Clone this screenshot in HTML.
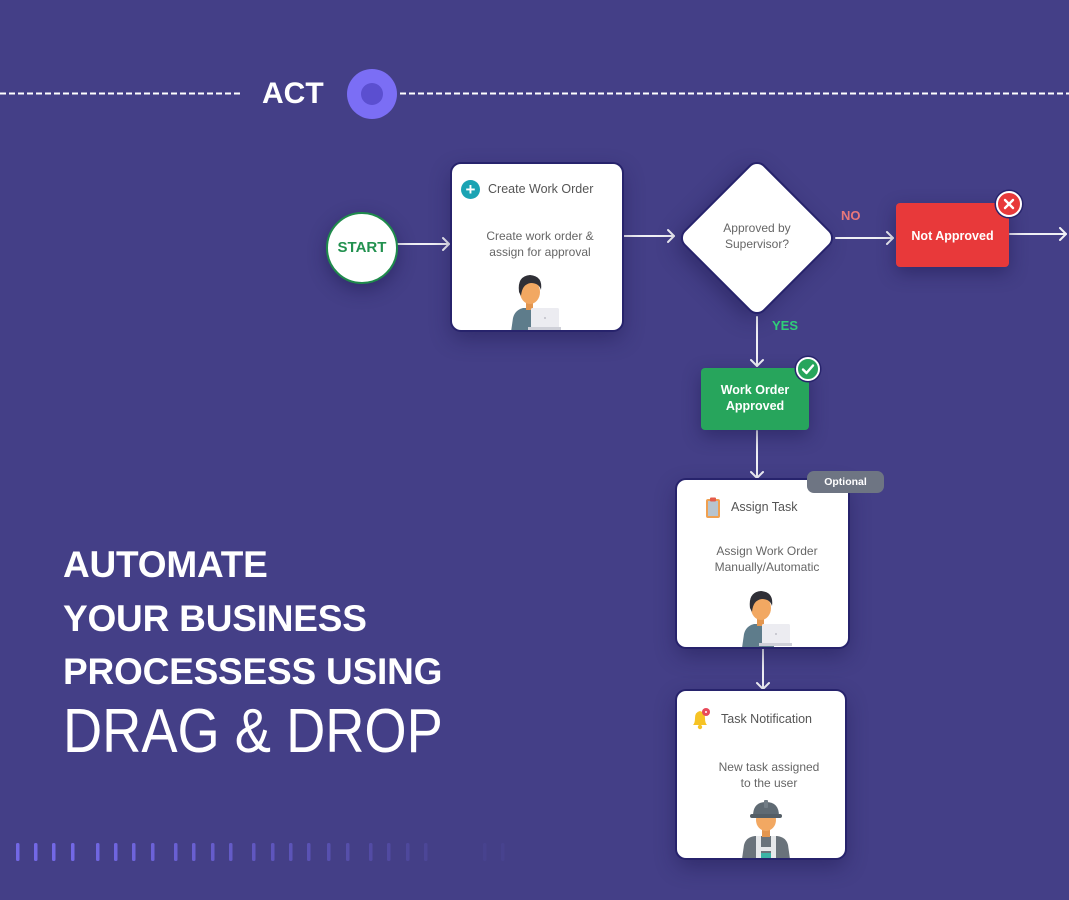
<!DOCTYPE html>
<html><head><meta charset="utf-8">
<style>
*{margin:0;padding:0;box-sizing:border-box}
html,body{width:1069px;height:900px;overflow:hidden}
body{background:#443f87;font-family:"Liberation Sans",sans-serif;position:relative}
.abs{position:absolute}
.card{position:absolute;background:#fff;border-radius:9px;box-shadow:0 0 0 2px #27236c,0 8px 22px rgba(25,20,70,.45)}
.hdr{position:absolute;font-size:12.5px;color:#555;white-space:nowrap}
.body{position:absolute;font-size:12px;color:#666;text-align:center;line-height:16px;white-space:nowrap}
.head{position:absolute;left:63px;color:#fff;font-weight:bold;font-size:37px;letter-spacing:-0.2px;white-space:nowrap;line-height:1}
</style></head><body>

<svg class="abs" style="left:0;top:0" width="1069" height="900">
  <line x1="0" y1="93.5" x2="243" y2="93.5" stroke="#fff" stroke-width="2" stroke-dasharray="6 3"/>
  <line x1="400" y1="93.5" x2="1069" y2="93.5" stroke="#fff" stroke-width="2" stroke-dasharray="6 3"/>
  <circle cx="372" cy="94" r="25" fill="#7b6ef5"/>
  <circle cx="372" cy="94" r="11" fill="#5b4fd0"/>
  <g stroke="#fff" stroke-width="2" fill="none" stroke-linecap="round" stroke-linejoin="round" opacity="0.92">
    <line x1="398" y1="244" x2="449" y2="244"/><polyline points="443,238 449,244 443,250"/>
    <line x1="623" y1="236" x2="674" y2="236"/><polyline points="668,230 674,236 668,242"/>
    <line x1="836" y1="238" x2="893" y2="238"/><polyline points="887,232 893,238 887,244"/>
    <line x1="1010" y1="234" x2="1066" y2="234"/><polyline points="1060,228 1066,234 1060,240"/>
    <line x1="757" y1="317" x2="757" y2="366"/><polyline points="751,360 757,366 763,360"/>
    <line x1="757" y1="431" x2="757" y2="478"/><polyline points="751,472 757,478 763,472"/>
    <line x1="763" y1="648" x2="763" y2="689"/><polyline points="757,683 763,689 769,683"/>
  </g>
  <g fill="#7368e6">
    <rect x="16" y="843" width="3.5" height="18" rx="1.5"/>
    <rect x="34" y="843" width="3.5" height="18" rx="1.5"/>
    <rect x="52" y="843" width="3.5" height="18" rx="1.5"/>
    <rect x="71" y="843" width="3.5" height="18" rx="1.5"/>
    <rect x="96" y="843" width="3.5" height="18" rx="1.5" opacity=".95"/>
    <rect x="114" y="843" width="3.5" height="18" rx="1.5" opacity=".92"/>
    <rect x="132" y="843" width="3.5" height="18" rx="1.5" opacity=".9"/>
    <rect x="151" y="843" width="3.5" height="18" rx="1.5" opacity=".85"/>
    <rect x="174" y="843" width="3.5" height="18" rx="1.5" opacity=".8"/>
    <rect x="192" y="843" width="3.5" height="18" rx="1.5" opacity=".78"/>
    <rect x="211" y="843" width="3.5" height="18" rx="1.5" opacity=".72"/>
    <rect x="229" y="843" width="3.5" height="18" rx="1.5" opacity=".68"/>
    <rect x="252" y="843" width="3.5" height="18" rx="1.5" opacity=".6"/>
    <rect x="271" y="843" width="3.5" height="18" rx="1.5" opacity=".56"/>
    <rect x="289" y="843" width="3.5" height="18" rx="1.5" opacity=".52"/>
    <rect x="307" y="843" width="3.5" height="18" rx="1.5" opacity=".48"/>
    <rect x="327" y="843" width="3.5" height="18" rx="1.5" opacity=".42"/>
    <rect x="346" y="843" width="3.5" height="18" rx="1.5" opacity=".38"/>
    <rect x="369" y="843" width="3.5" height="18" rx="1.5" opacity=".32"/>
    <rect x="387" y="843" width="3.5" height="18" rx="1.5" opacity=".28"/>
    <rect x="406" y="843" width="3.5" height="18" rx="1.5" opacity=".22"/>
    <rect x="424" y="843" width="3.5" height="18" rx="1.5" opacity=".18"/>
    <rect x="483" y="843" width="3.5" height="18" rx="1.5" opacity=".08"/>
    <rect x="501" y="843" width="3.5" height="18" rx="1.5" opacity=".08"/>
  </g>
</svg>

<div class="abs" style="left:262px;top:79px;color:#fff;font-weight:bold;font-size:30px;line-height:30px">ACT</div>

<!-- START -->
<div class="abs" style="left:326px;top:212px;width:72px;height:72px;border-radius:50%;background:#fff;border:2.5px solid #1f8a4c;box-shadow:0 6px 18px rgba(25,20,70,.45);color:#22914f;font-weight:bold;font-size:15px;line-height:67px;text-align:center">START</div>

<!-- Create Work Order card -->
<div class="card" style="left:452px;top:164px;width:170px;height:166px;overflow:hidden">
  <div class="abs" style="left:9px;top:16px;width:19px;height:19px;border-radius:50%;background:#1aa3b3;color:#fff;font-weight:bold;font-size:17px;line-height:19px;text-align:center">+</div>
  <div class="hdr" style="left:36px;top:18px">Create Work Order</div>
  <div class="body" style="left:0;width:176px;top:64px">Create work order &amp;<br>assign for approval</div>
  <svg class="abs" style="left:57px;top:106px" width="52" height="62" viewBox="0 0 52 62">
    <path d="M2 62 L4 48 Q6 40 14 38 L30 38 Q34 40 34 48 L34 62 Z" fill="#5e7c8b"/>
    <rect x="17" y="30" width="7" height="10" fill="#e3964f"/>
    <ellipse cx="21" cy="22" rx="10" ry="12" fill="#f2a862"/>
    <path d="M10 22 Q8 6 21 5 Q34 6 32 20 Q30 13 22 13 Q13 14 12 26 Z" fill="#2f2f36"/>
    <rect x="22" y="38" width="28" height="20" rx="1.5" fill="#ececf1"/>
    <rect x="19" y="57" width="33" height="3" fill="#cfd0d8"/>
    <circle cx="36" cy="48" r="1" fill="#c0c0c8"/>
  </svg>
</div>

<!-- Diamond -->
<div class="abs" style="left:702px;top:183px;width:110px;height:110px;background:#fff;border-radius:9px;transform:rotate(45deg);box-shadow:0 0 0 2px #27236c,0 8px 22px rgba(25,20,70,.45)"></div>
<div class="body" style="left:697px;width:120px;top:220px">Approved by<br>Supervisor?</div>

<div class="abs" style="left:841px;top:208px;color:#e8777a;font-weight:bold;font-size:13px">NO</div>
<div class="abs" style="left:772px;top:318px;color:#2fce78;font-weight:bold;font-size:13px">YES</div>

<!-- Not Approved -->
<div class="abs" style="left:896px;top:203px;width:113px;height:64px;background:#e8393a;border-radius:4px;box-shadow:0 6px 18px rgba(25,20,70,.45);color:#fff;font-weight:bold;font-size:12.5px;line-height:66px;text-align:center">Not Approved</div>
<div class="abs" style="left:996px;top:191px;width:26px;height:26px;border-radius:50%;background:#e8393a;border:2.5px solid #fff;box-shadow:0 0 0 1.5px #27236c"></div>
<svg class="abs" style="left:996px;top:191px" width="26" height="26"><g stroke="#fff" stroke-width="2.4" stroke-linecap="round"><line x1="9" y1="9" x2="17" y2="17"/><line x1="17" y1="9" x2="9" y2="17"/></g></svg>

<!-- Work Order Approved -->
<div class="abs" style="left:701px;top:368px;width:108px;height:62px;background:#27a55c;border-radius:4px;box-shadow:0 6px 18px rgba(25,20,70,.45);color:#fff;font-weight:bold;font-size:12.5px;line-height:16px;text-align:center;padding-top:14px">Work Order<br>Approved</div>
<div class="abs" style="left:796px;top:357px;width:24px;height:24px;border-radius:50%;background:#27a55c;border:2.5px solid #fff;box-shadow:0 0 0 1.5px #27236c"></div>
<svg class="abs" style="left:796px;top:357px" width="24" height="24"><polyline points="7,12.5 10.5,16 17,8.5" fill="none" stroke="#fff" stroke-width="2.4" stroke-linecap="round" stroke-linejoin="round"/></svg>

<!-- Assign Task card -->
<div class="card" style="left:677px;top:480px;width:171px;height:167px;overflow:hidden">
  <svg class="abs" style="left:28px;top:17px" width="16" height="22" viewBox="0 0 16 22">
    <rect x="1" y="2" width="14" height="19" rx="2" fill="#f0a050"/>
    <rect x="3" y="4" width="10" height="15" fill="#b7c4cf"/>
    <rect x="5" y="0.5" width="6" height="4" rx="1" fill="#e45b4a"/>
  </svg>
  <div class="hdr" style="left:54px;top:20px">Assign Task</div>
  <div class="body" style="left:0;width:180px;top:63px">Assign Work Order<br>Manually/Automatic</div>
  <svg class="abs" style="left:63px;top:106px" width="52" height="62" viewBox="0 0 52 62">
    <path d="M2 62 L4 48 Q6 40 14 38 L30 38 Q34 40 34 48 L34 62 Z" fill="#5e7c8b"/>
    <rect x="17" y="30" width="7" height="10" fill="#e3964f"/>
    <ellipse cx="21" cy="22" rx="10" ry="12" fill="#f2a862"/>
    <path d="M10 22 Q8 6 21 5 Q34 6 32 20 Q30 13 22 13 Q13 14 12 26 Z" fill="#2f2f36"/>
    <rect x="22" y="38" width="28" height="20" rx="1.5" fill="#ececf1"/>
    <rect x="19" y="57" width="33" height="3" fill="#cfd0d8"/>
    <circle cx="36" cy="48" r="1" fill="#c0c0c8"/>
  </svg>
</div>
<div class="abs" style="left:807px;top:471px;width:77px;height:22px;border-radius:7px;background:#6e7583;color:#fff;font-weight:bold;font-size:10.5px;line-height:22px;text-align:center">Optional</div>

<!-- Task Notification card -->
<div class="card" style="left:677px;top:691px;width:168px;height:167px;overflow:hidden">
  <svg class="abs" style="left:12px;top:16px" width="24" height="24" viewBox="0 0 24 24">
    <path d="M4 18 Q6 16 6 11 Q6 5 11 4 Q16 5 16 11 Q16 16 18 18 Z" fill="#f6c325"/>
    <circle cx="11" cy="20" r="2.2" fill="#f6c325"/>
    <circle cx="17" cy="5" r="4" fill="#e84a5a"/>
    <circle cx="17" cy="5" r="1" fill="#fff"/>
  </svg>
  <div class="hdr" style="left:44px;top:21px">Task Notification</div>
  <div class="body" style="left:0;width:184px;top:68px">New task assigned<br>to the user</div>
  <svg class="abs" style="left:62px;top:106px" width="54" height="62" viewBox="0 0 54 62">
    <path d="M3 62 L5 48 Q7 40 16 39 L38 39 Q47 40 49 48 L51 62 Z" fill="#6a737b"/>
    <rect x="17" y="39" width="5" height="23" fill="#e6e8ea"/>
    <rect x="32" y="39" width="5" height="23" fill="#e6e8ea"/>
    <rect x="17" y="50" width="20" height="4" fill="#e6e8ea"/>
    <rect x="22" y="56" width="10" height="6" fill="#3bb3a6"/>
    <rect x="23" y="31" width="8" height="9" fill="#e3964f"/>
    <ellipse cx="27" cy="23" rx="10" ry="11" fill="#f2a862"/>
    <path d="M14 19 Q14 5 27 5 Q40 5 40 19 Z" fill="#5f6a73"/>
    <rect x="11" y="17" width="32" height="4" rx="2" fill="#545e66"/>
    <rect x="25" y="3" width="4" height="8" rx="1" fill="#727d86"/>
  </svg>
</div>

<!-- Left headline -->
<div class="head" style="top:546px">AUTOMATE</div>
<div class="head" style="top:600px">YOUR BUSINESS</div>
<div class="head" style="top:653px">PROCESSESS USING</div>
<div class="abs" style="left:63px;top:701px;color:#fff;font-size:62px;line-height:1;white-space:nowrap;transform:scaleX(0.875);transform-origin:left top">DRAG &amp; DROP</div>

</body></html>
